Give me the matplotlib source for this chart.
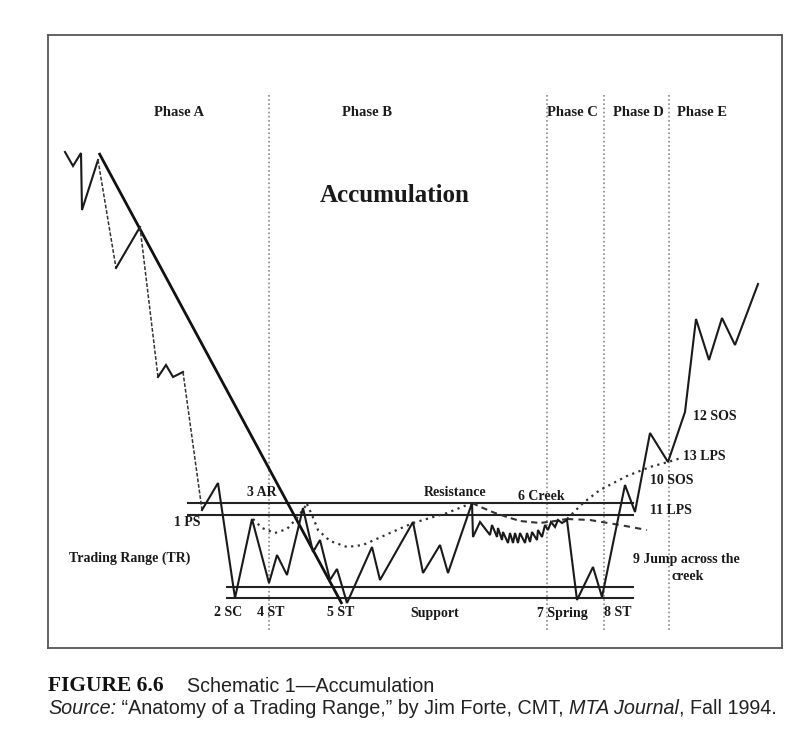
import matplotlib
matplotlib.use("Agg")
import matplotlib.pyplot as plt

# schematic price path (time, price level)
path_t = [65, 73, 81, 82, 98, 116, 140, 158, 166, 173, 183, 202, 218, 235, 252,
          269, 277, 287, 303, 313, 320, 330, 337, 347, 372, 380, 413, 423, 440,
          448, 472, 473, 480, 490, 492, 497, 498, 502, 503, 508, 510, 513, 515,
          518, 520, 525, 527, 530, 532, 537, 538, 542, 545, 548, 551, 555, 558,
          562, 567, 577, 593, 602, 625, 635, 650, 668, 685, 696, 709, 722, 735, 758]
path_p = [152, 166, 153, 210, 160, 268, 227, 377, 365, 377, 372, 510, 483, 598, 519,
          583, 555, 575, 508, 552, 540, 580, 569, 603, 547, 580, 522, 573, 545,
          573, 503, 537, 522, 535, 525, 537, 528, 540, 532, 543, 533, 543, 533,
          543, 533, 543, 533, 542, 532, 540, 530, 537, 525, 530, 522, 527, 520,
          523, 520, 600, 567, 597, 485, 512, 433, 462, 412, 319, 360, 318, 345, 284]
dashed_legs = [4, 6, 10]   # fast down legs drawn thin dashed

# downtrend line
trend_t = [99, 342]
trend_p = [153, 604]

# trading range lines
resist_levels = [503, 515]
resist_span = [187, 634]
support_levels = [587, 598]
support_span = [226, 634]

# phase boundaries
phase_bounds = [269, 547, 604, 669]
phase_names = ["Phase A", "Phase B", "Phase C", "Phase D", "Phase E"]
phase_centers = [179, 367, 572, 638, 702]

# guide curves
ar_test_t = [253, 262, 275, 287, 297, 307]
ar_test_p = [519, 528, 533, 529, 518, 504]
bowl_t = [307, 312, 318, 330, 347, 363, 390, 413, 447, 472]
bowl_p = [504, 515, 530, 541, 547, 545, 533, 523, 513, 503]
creek_t = [472, 483, 495, 507, 520, 540, 555, 567]
creek_p = [503, 508, 513, 517, 521, 523, 521, 519]
rise_t = [567, 583, 600, 627, 650, 668, 681]
rise_p = [519, 503, 490, 476, 467, 462, 458]
fall_t = [567, 590, 620, 647]
fall_p = [519, 520, 525, 530]

labels = [
    ("3 AR", 262, 493, "center"),
    ("1 PS", 187, 523, "center"),
    ("Trading Range (TR)", 130, 558, "center"),
    ("Resistance", 455, 493, "center"),
    ("6 Creek", 541, 496, "center"),
    ("2 SC", 228, 613, "center"),
    ("4 ST", 271, 613, "center"),
    ("5 ST", 341, 613, "center"),
    ("Support", 435, 613, "center"),
    ("7 Spring", 562, 613, "center"),
    ("8 ST", 618, 613, "center"),
    ("9 Jump across the", 633, 559, "left"),
    ("creek", 688, 577, "center"),
    ("10 SOS", 650, 480, "left"),
    ("11 LPS", 650, 510, "left"),
    ("12 SOS", 693, 416, "left"),
    ("13 LPS", 683, 457, "left"),
]

W, H = 805, 729
fig = plt.figure(figsize=(W / 100, H / 100), dpi=100)
ax = fig.add_axes([48 / W, 1 - 648 / H, (782 - 48) / W, (648 - 35) / H])
ax.set_xlim(48, 782)
ax.set_ylim(648, 35)
ax.set_xticks([])
ax.set_yticks([])
for s in ax.spines.values():
    s.set_color("#555555")
    s.set_linewidth(1.3)

serif = "Liberation Serif"
ink = "#1a1a1a"

# phase separators
for xb in phase_bounds:
    ax.plot([xb, xb], [95, 630], color="#8a8a8a", lw=1.2, ls=(0, (1, 1.5)))

for name, xc in zip(phase_names, phase_centers):
    ax.text(xc, 112, name, family=serif, weight="bold", fontsize=10.5,
            ha="center", va="center", color=ink)

ax.text(395, 196, "Accumulation", family=serif, weight="bold", fontsize=18,
        ha="center", va="center", color=ink)

# range lines
for lvl in resist_levels:
    ax.plot(resist_span, [lvl, lvl], color="#222222", lw=1.5, solid_capstyle="butt")
for lvl in support_levels:
    ax.plot(support_span, [lvl, lvl], color="#222222", lw=1.5, solid_capstyle="butt")

# trend line
ax.plot(trend_t, trend_p, color="#111111", lw=2.0, solid_capstyle="butt")

# guide curves
dot = (0, (1, 2))
for gt, gp in [(ar_test_t, ar_test_p), (bowl_t, bowl_p), (rise_t, rise_p)]:
    ax.plot(gt, gp, color="#333333", lw=1.6, ls=dot)
ax.plot(creek_t, creek_p, color="#333333", lw=1.5, ls=(0, (3, 2)))
ax.plot(fall_t, fall_p, color="#333333", lw=1.5, ls=(0, (3, 2.5)))

# price path: solid runs, thin dashed for the marked legs
run_t, run_p = [path_t[0]], [path_p[0]]
for i in range(len(path_t) - 1):
    if i in dashed_legs:
        if len(run_t) > 1:
            ax.plot(run_t, run_p, color=ink, lw=1.5, solid_joinstyle="miter")
        ax.plot(path_t[i:i + 2], path_p[i:i + 2], color="#333333", lw=1.1,
                ls=(0, (2.5, 1.2)))
        run_t, run_p = [path_t[i + 1]], [path_p[i + 1]]
    else:
        run_t.append(path_t[i + 1])
        run_p.append(path_p[i + 1])
ax.plot(run_t, run_p, color=ink, lw=1.5, solid_joinstyle="miter")

for txt, xt, yt, ha in labels:
    ax.text(xt, yt, txt, family=serif, weight="bold", fontsize=10,
            ha=ha, va="center", color=ink)

# caption
fig.text(48 / W, 1 - 686 / H, "FIGURE 6.6", family=serif, weight="bold",
         fontsize=15.5, va="center", color="#111111")
fig.text(187 / W, 1 - 686 / H, "Schematic 1\u2014Accumulation",
         family=["Liberation Sans", "DejaVu Sans"], fontsize=14.2, va="center",
         color="#222222")

pieces = [("Source:", "italic"),
          (" \u201cAnatomy of a Trading Range,\u201d by Jim Forte, CMT, ", "normal"),
          ("MTA Journal", "italic"),
          (", Fall 1994.", "normal")]
renderer = fig.canvas.get_renderer()
xpos = 48
for txt, style in pieces:
    t = fig.text(xpos / W, 1 - 708 / H, txt, family=["Liberation Sans", "DejaVu Sans"],
                 style=style, fontsize=14.2, va="center", color="#222222")
    xpos += t.get_window_extent(renderer).width

fig.savefig("out.png", dpi=100)
